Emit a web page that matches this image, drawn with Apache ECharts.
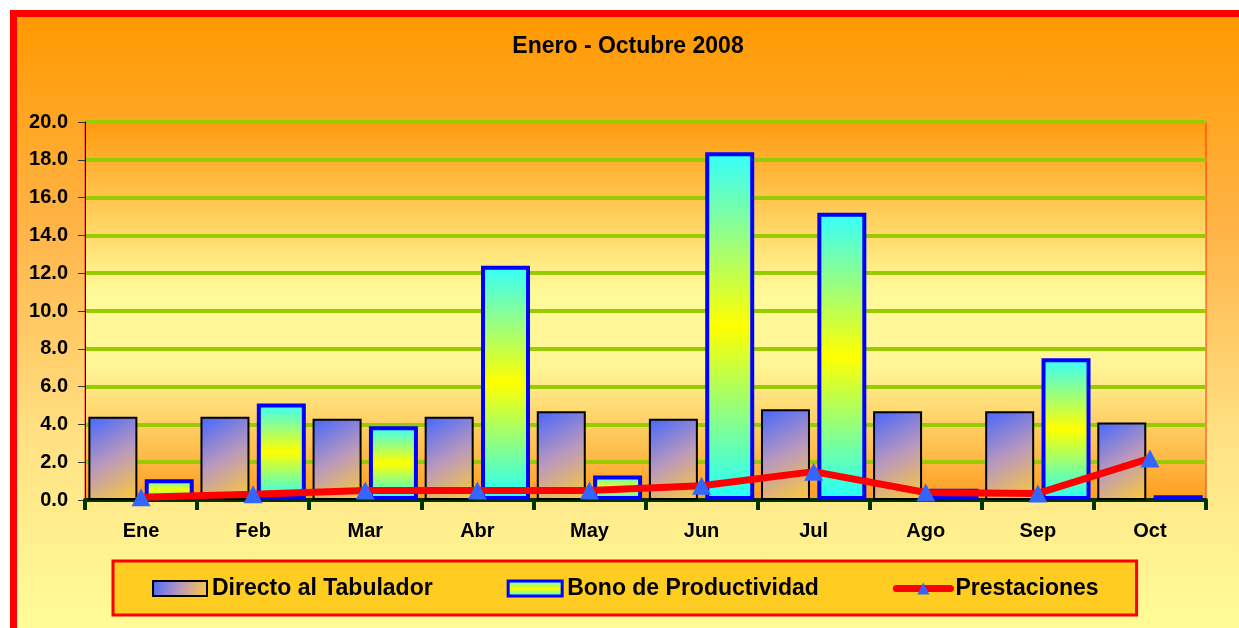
<!DOCTYPE html>
<html>
<head>
<meta charset="utf-8">
<script src="https://cdn.jsdelivr.net/npm/echarts@6/dist/echarts.min.js"></script>
<style>
  html, body { margin: 0; padding: 0; overflow: hidden; background: #fff; }
  .frame {
    position: absolute; left: 10px; top: 10px;
    width: 1300px; height: 700px;
    border-top: 7px solid #ff0000; border-left: 7px solid #ff0000;
    background: linear-gradient(to bottom, #ff9900 0%, #ffb447 30%, #ffe184 60%, #ffff99 90%);
  }
  #chart { position: absolute; left: 0; top: 0; width: 1222px; height: 611px; }
</style>
</head>
<body>
<div class="frame"><div id="chart"></div></div>
<script>
// datos
const meses = ["Ene", "Feb", "Mar", "Abr", "May", "Jun", "Jul", "Ago", "Sep", "Oct"];
const directo = [4.4, 4.4, 4.3, 4.4, 4.7, 4.3, 4.8, 4.7, 4.7, 4.1];
const bono = [1.1, 5.1, 3.9, 12.4, 1.3, 18.4, 15.2, 0.6, 7.5, 0.25];
const prestaciones = [0.15, 0.3, 0.5, 0.5, 0.5, 0.75, 1.5, 0.4, 0.35, 2.2];

const fuente = "'Liberation Sans', Arial, sans-serif";

let myChart = echarts.init(document.getElementById("chart"));

let option = {
  animation: false,
  title: {
    text: "Enero - Octubre 2008",
    left: "center",
    top: 18,
    padding: 0,
    textStyle: { fontFamily: fuente, fontWeight: "bold", fontSize: 23, color: "#000" }
  },
  legend: {
    left: 96,
    top: 544,
    padding: [16, 38, 15, 39],
    itemGap: 74,
    itemWidth: 54,
    itemHeight: 15,
    backgroundColor: "#ffcc22",
    borderColor: "#ff0000",
    borderWidth: 3,
    textStyle: { fontFamily: fuente, fontWeight: "bold", fontSize: 23, color: "#000" },
    data: [
      { name: "Directo al Tabulador", icon: "rect" },
      { name: "Bono de Productividad", icon: "rect", itemStyle: { borderWidth: 3 } },
      { name: "Prestaciones", lineStyle: { width: 7, cap: "round" } }
    ]
  },
  grid: {
    left: 68,
    right: 33,
    top: 105,
    bottom: 128,
    show: true,
    borderColor: "#ff3300",
    borderWidth: 1,
    backgroundColor: new echarts.graphic.LinearGradient(0, 0, 0, 1, [
      { offset: 0, color: "#ff9a10" },
      { offset: 0.45, color: "#fffa99" },
      { offset: 0.65, color: "#fff597" },
      { offset: 1, color: "#ff9c20" }
    ])
  },
  xAxis: {
    type: "category",
    data: meses,
    axisLine: { lineStyle: { color: "#003300", width: 4 } },
    axisTick: { show: true, length: 10, lineStyle: { color: "#003300", width: 4 } },
    axisLabel: { margin: 21, fontFamily: fuente, fontWeight: "bold", fontSize: 20, color: "#000" }
  },
  yAxis: {
    type: "value",
    min: 0,
    max: 20,
    interval: 2,
    axisLine: { show: true, lineStyle: { color: "#330000", width: 1 } },
    axisTick: { show: true, length: 7, lineStyle: { color: "#333", width: 1 } },
    axisLabel: {
      margin: 17,
      fontFamily: fuente, fontWeight: "bold", fontSize: 20, color: "#000",
      formatter: function (v) { return v.toFixed(1); }
    },
    splitLine: { show: true, lineStyle: { color: "#99cc00", width: 4 } }
  },
  series: [
    {
      name: "Directo al Tabulador",
      type: "bar",
      barWidth: 49,
      barGap: "15%",
      data: directo,
      itemStyle: {
        color: new echarts.graphic.LinearGradient(0, 0, 1, 1, [
          { offset: 0, color: "#4466ff" },
          { offset: 0.5, color: "#bb99bb" },
          { offset: 1, color: "#ffcc33" }
        ]),
        borderColor: "#000",
        borderWidth: 2
      }
    },
    {
      name: "Bono de Productividad",
      type: "bar",
      barWidth: 49,
      data: bono,
      itemStyle: {
        color: new echarts.graphic.LinearGradient(0, 0, 0, 1, [
          { offset: 0, color: "#33ffff" },
          { offset: 0.5, color: "#ffff00" },
          { offset: 1, color: "#22ffff" }
        ]),
        borderColor: "#0000ff",
        borderWidth: 4
      }
    },
    {
      name: "Prestaciones",
      type: "line",
      data: prestaciones,
      z: 5,
      symbol: "triangle",
      symbolSize: [19, 18],
      lineStyle: { color: "#ff0000", width: 7 },
      itemStyle: { color: "#3366ff" }
    }
  ]
};

myChart.setOption(option);
</script>
</body>
</html>
